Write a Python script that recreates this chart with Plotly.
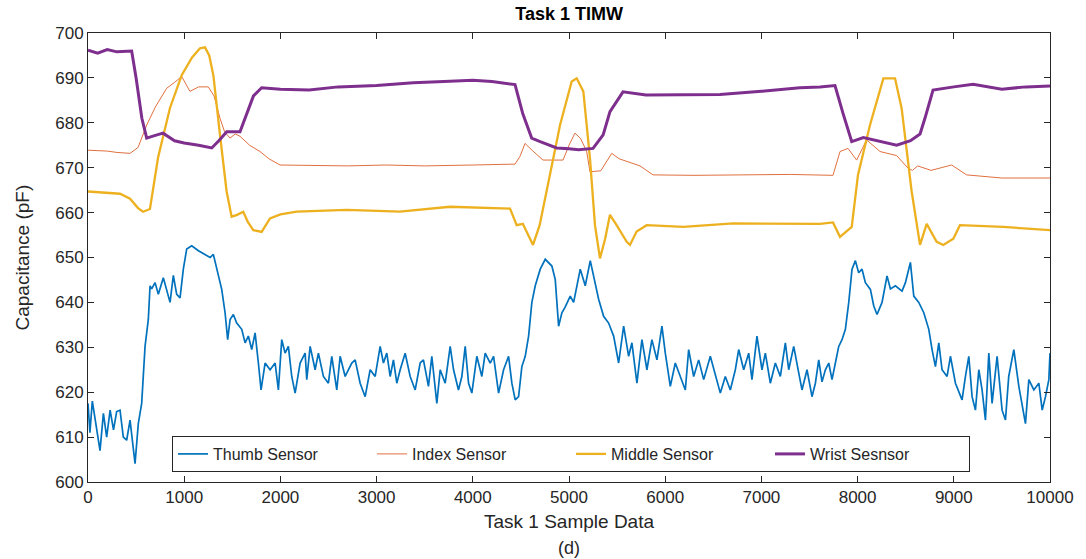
import plotly.graph_objects as go

# ---------------- data ----------------
thumb_x = [0, 20, 45, 80, 125, 160, 194, 230, 265, 298, 333, 367, 402, 437, 454, 489, 523, 558,
           593, 627, 645, 662, 697, 731, 783, 818, 853, 887, 922, 957, 991, 1026, 1078, 1148,
           1217, 1269, 1303, 1355, 1390, 1425, 1452, 1477, 1511, 1546, 1598, 1633, 1667, 1702,
           1737, 1771, 1799, 1841, 1893, 1945, 1979, 2014, 2049, 2083, 2118, 2153, 2205, 2257,
           2274, 2309, 2361, 2395, 2447, 2499, 2534, 2586, 2621, 2673, 2742, 2777, 2829, 2881,
           2933, 2985, 3037, 3071, 3106, 3141, 3175, 3210, 3245, 3297, 3349, 3401, 3453, 3487,
           3539, 3574, 3626, 3661, 3713, 3765, 3800, 3851, 3886, 3921, 3956, 3990, 4042, 4094,
           4129, 4181, 4216, 4268, 4320, 4372, 4406, 4441, 4476, 4510, 4545, 4580, 4614, 4649,
           4701, 4753, 4822, 4857, 4892, 4926, 4961, 5013, 5048, 5117, 5169, 5221, 5256, 5308,
           5360, 5412, 5464, 5516, 5568, 5620, 5654, 5706, 5758, 5810, 5862, 5914, 5966, 6001,
           6053, 6105, 6157, 6209, 6244, 6296, 6348, 6400, 6469, 6521, 6573, 6625, 6677, 6729,
           6764, 6816, 6868, 6902, 6954, 7006, 7041, 7093, 7145, 7197, 7249, 7284, 7336, 7388,
           7422, 7474, 7526, 7561, 7596, 7630, 7665, 7700, 7734, 7769, 7804, 7838, 7873, 7908,
           7942, 7977, 8011, 8046, 8081, 8133, 8168, 8202, 8254, 8306, 8341, 8393, 8462, 8497,
           8549, 8584, 8636, 8688, 8740, 8774, 8809, 8844, 8878, 8930, 8965, 9017, 9086, 9121,
           9156, 9190, 9225, 9260, 9294, 9329, 9364, 9398, 9450, 9502, 9537, 9571, 9624, 9676,
           9710, 9745, 9780, 9832, 9884, 9919, 9953, 9988, 10000]
thumb_y = [617.5, 611, 618, 613, 607, 615.3, 610, 616, 611.6, 615.7, 616, 610, 609.3, 613.8, 611,
           604.1, 613, 617.5, 630.2, 636.2, 643.7, 643, 644.4, 641.8, 645.5, 642.5, 640, 646,
           641.8, 641, 647.4, 651.9, 652.6, 651.5, 650.7, 650, 650.7, 645.9, 642.9, 637.7, 631.7,
           636.2, 637.3, 635.4, 634, 631, 632.5, 629.5, 633.2, 626.5, 620.5, 626.5, 625, 626.5,
           620.5, 631.7, 628.7, 630.2, 623.5, 619.8, 626.5, 628.7, 622.8, 630.2, 625, 628.7,
           623.5, 622, 628, 620.5, 628, 623.5, 626.5, 627.2, 622, 619, 625, 623.5, 630.2, 626.5,
           628.7, 623.5, 627.2, 622, 625, 628.7, 623.5, 620.5, 626.5, 627.2, 621.3, 628, 617.5,
           625, 622, 630.2, 625, 620.5, 623.5, 630.2, 622, 619.8, 628, 623.5, 628.7, 626.5, 628,
           619.8, 625, 628, 622, 618.3, 619, 625.7, 628, 632.5, 640, 643.7, 647.4, 649.6, 648.1,
           645.1, 634.7, 637.7, 639, 641.4, 640, 647.4, 643.7, 649.3, 645.9, 640.7, 636.9, 635.4,
           632.5, 626.5, 634.7, 628, 631, 622, 631.7, 625, 631.7, 627.2, 634.7, 628.7, 621.3,
           626.5, 623.5, 620.5, 629.5, 623.5, 627.2, 622.8, 628, 624, 619.8, 623.5, 620.5, 625,
           629.5, 625, 628.7, 622.8, 632.5, 625, 628.7, 622, 626.5, 623.5, 631, 625, 630.2,
           624.3, 620.5, 625, 619, 622, 627.2, 622.3, 625, 626.5, 622.8, 626.5, 630.2, 631.7,
           634, 640, 647.4, 649.3, 646.6, 647.4, 644.4, 642.9, 639.2, 637.3, 640, 645.9, 643,
           643.7, 642.5, 644.4, 648.9, 641.4, 640, 637.7, 634, 629.5, 625.7, 631, 625, 623.5,
           628, 622, 618.3, 623.5, 628, 619, 616, 625, 620.5, 613.8, 628.7, 617.5, 628, 616,
           613.8, 623.5, 629.5, 621.3, 617.5, 613, 622.8, 620.5, 622, 616, 619, 622.8, 628.7]

index_x = [0, 200, 300, 437, 520, 610, 700, 818, 900, 974, 1060, 1150, 1250, 1310, 1372, 1420,
           1476, 1530, 1580, 1680, 1788, 1880, 1996, 2300, 2700, 3100, 3500, 4000, 4439, 4490,
           4543, 4625, 4730, 4938, 5000, 5062, 5120, 5183, 5218, 5330, 5444, 5520, 5596, 5738,
           5873, 6300, 6800, 7300, 7744, 7817, 7900, 7990, 8094, 8233, 8406, 8524, 8570, 8625,
           8763, 8978, 9133, 9500, 10000]
index_y = [673.9, 673.7, 673.4, 673.2, 674.5, 679.5, 683.5, 687.7, 689, 690.3, 687, 688, 688,
           686, 681, 678, 676.6, 677.5, 677, 675, 673.6, 672, 670.6, 670.5, 670.4, 670.6, 670.4,
           670.6, 670.8, 672.5, 675.4, 673.7, 671.7, 671.7, 675, 677.7, 676.5, 673.7, 669.1,
           669.3, 673.2, 672, 671.5, 670.4, 668.4, 668.3, 668.4, 668.5, 668.3, 673.6, 674.3,
           671.7, 676.2, 673.6, 672.7, 669.9, 669.4, 670.4, 669.4, 670.6, 668.4, 667.7, 667.7]

middle_x = [0, 150, 333, 437, 520, 572, 644, 728, 852, 974, 1080, 1164, 1216, 1260, 1303, 1372,
            1441, 1493, 1550, 1614, 1660, 1718, 1805, 1892, 2000, 2170, 2690, 3243, 3763, 4387,
            4456, 4520, 4626, 4695, 4802, 4907, 5028, 5080, 5149, 5218, 5270, 5322, 5374, 5426,
            5495, 5600, 5634, 5703, 5807, 6188, 6708, 7200, 7609, 7744, 7817, 7939, 8004, 8129,
            8268, 8389, 8458, 8562, 8649, 8718, 8822, 8891, 8995, 9064, 9515, 10000]
middle_y = [664.7, 664.5, 664.2, 663.1, 661, 660.2, 660.8, 672.2, 683.3, 690.6, 694.5, 696.6,
            696.8, 695, 690.6, 677.3, 664.7, 659.1, 659.5, 660.2, 658, 656.1, 655.7, 658.7,
            659.6, 660.2, 660.6, 660.2, 661.3, 660.9, 657.2, 657.5, 652.8, 657.2, 668.4, 679.5,
            689.2, 689.9, 687, 672.1, 657.2, 649.8, 654, 659.5, 657.2, 653.5, 652.8, 655.8,
            657.2, 656.8, 657.6, 657.5, 657.5, 657.8, 654.6, 656.8, 668.4, 679.5, 689.9, 689.9,
            683.2, 664.7, 652.8, 657.5, 653.5, 652.8, 654.2, 657.2, 656.8, 656.1]

wrist_x = [0, 100, 200, 300, 454, 500, 560, 610, 700, 780, 900, 1000, 1150, 1286, 1360, 1442,
           1580, 1650, 1720, 1805, 2000, 2300, 2600, 3000, 3380, 3700, 4000, 4200, 4439, 4520,
           4612, 4700, 4872, 5000, 5100, 5250, 5355, 5426, 5561, 5800, 6200, 6570, 7000, 7400,
           7609, 7765, 7850, 7939, 8060, 8200, 8406, 8550, 8649, 8700, 8784, 9000, 9200, 9500,
           9750, 10000]
wrist_y = [696.2, 695.5, 696.3, 695.8, 696, 690, 681, 676.6, 677.2, 677.7, 676, 675.5, 675,
           674.4, 676, 678, 678, 682, 686, 687.8, 687.5, 687.3, 688, 688.3, 688.9, 689.2, 689.5,
           689.2, 688.5, 682, 676.6, 675.8, 674.4, 674.2, 674, 674.3, 677.3, 682.5, 686.9, 686.2,
           686.3, 686.3, 687, 687.8, 688, 688.3, 682, 675.8, 676.7, 676, 675, 676, 677.5, 681,
           687.3, 688, 688.6, 687.5, 688, 688.2]

series_names = ["Thumb Sensor", "Index Sensor", "Middle Sensor", "Wrist Sesnsor"]
series_colors = ["#0072BD", "#E0703F", "#EDB120", "#7E2F8E"]
series_widths = [1.7, 1.0, 2.3, 3.0]

x_ticks = list(range(0, 10001, 1000))
x_tick_labels = [str(v) for v in x_ticks]
y_ticks = list(range(600, 701, 10))

# ---------------- figure ----------------
fig = go.Figure()
for xs, ys, name, col, w in zip([thumb_x, index_x, middle_x, wrist_x],
                                [thumb_y, index_y, middle_y, wrist_y],
                                series_names, series_colors, series_widths):
    fig.add_trace(go.Scatter(x=xs, y=ys, mode="lines", name=name,
                             line=dict(color=col, width=w)))

axis_col = "#262626"
font_family = "Liberation Sans, Arial, sans-serif"

fig.update_layout(
    width=1086, height=559,
    margin=dict(l=88, r=36, t=33, b=77),
    paper_bgcolor="white", plot_bgcolor="white",
    font=dict(family=font_family, color=axis_col, size=17),
    title=dict(text="<b>Task 1 TIMW</b>", x=0.524, xanchor="center", y=0.975, yanchor="middle",
               font=dict(size=18, color="#000000")),
    showlegend=True,
    legend=dict(orientation="h", x=(172 - 88) / 962, xanchor="left",
                y=(482 - 472) / 449, yanchor="bottom",
                bgcolor="white", bordercolor=axis_col, borderwidth=1,
                font=dict(size=16, color=axis_col),
                entrywidth=154, entrywidthmode="pixels", tracegroupgap=0),
    annotations=[
        dict(text="Task 1 Sample Data", xref="paper", yref="paper", x=0.5, y=(482 - 521) / 449,
             xanchor="center", yanchor="middle", showarrow=False,
             font=dict(size=19, color=axis_col)),
        dict(text="(d)", xref="paper", yref="paper", x=0.5, y=(482 - 548) / 449,
             xanchor="center", yanchor="middle", showarrow=False,
             font=dict(size=18, color=axis_col)),
        dict(text="Capacitance (pF)", xref="paper", yref="paper", x=(22 - 88) / 962, y=0.5,
             xanchor="center", yanchor="middle", textangle=-90, showarrow=False,
             font=dict(size=19, color=axis_col)),
    ],
)

fig.update_xaxes(range=[0, 10000], tickvals=x_ticks, ticktext=x_tick_labels, ticks="inside",
                 ticklen=6, tickcolor=axis_col, showline=True, linecolor=axis_col, linewidth=1,
                 mirror="ticks", showgrid=False, zeroline=False,
                 tickfont=dict(size=17, color=axis_col))
fig.update_yaxes(range=[600, 700], tickvals=y_ticks, ticks="inside", ticklen=6,
                 tickcolor=axis_col, showline=True, linecolor=axis_col, linewidth=1,
                 mirror="ticks", showgrid=False, zeroline=False,
                 tickfont=dict(size=17, color=axis_col))

fig.write_html("out.html")
